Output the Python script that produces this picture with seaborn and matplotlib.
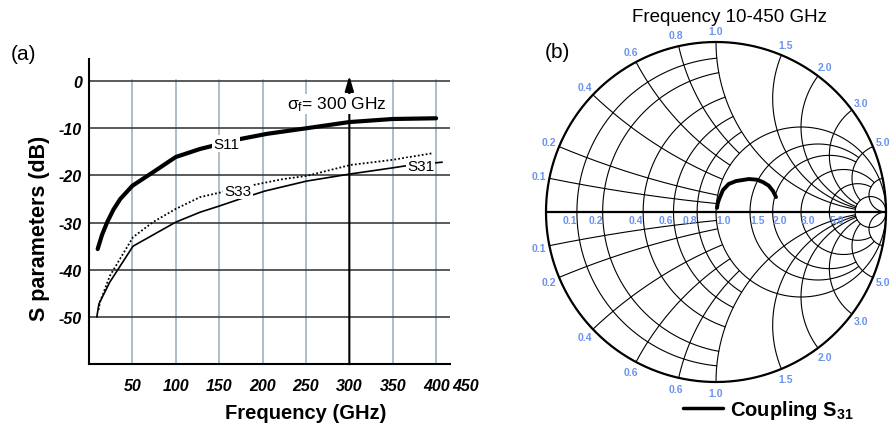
import numpy as np
import matplotlib
matplotlib.use("Agg")
import matplotlib.pyplot as plt
from matplotlib.lines import Line2D
import seaborn as sns

# ---------------- data ----------------
s11_freq = [10, 15, 21, 28, 36, 50, 74, 100, 128, 174, 205, 251, 300, 350, 400]
s11_db = [-35.6, -32.6, -29.9, -27.3, -25.0, -22.2, -19.3, -16.1, -14.4, -12.3, -11.2, -10.0, -8.7, -8.05, -7.9]

s33_freq = [11, 12.7, 24, 50.7, 73.7, 100, 128, 185, 223, 251, 301, 350, 396]
s33_db = [-48.5, -46.8, -41.3, -33.1, -29.9, -27.1, -24.6, -22.2, -20.8, -20.1, -17.8, -16.7, -15.3]

s31_freq = [9, 11.5, 24, 50.7, 100, 128, 150, 174, 203, 251, 301, 350, 364, 380, 407]
s31_db = [-50, -47.2, -42.6, -35.0, -29.9, -27.8, -26.5, -25.0, -23.3, -21.2, -19.7, -18.4, -18.0, -17.7, -17.2]

x_ticks = [50, 100, 150, 200, 250, 300, 350, 400]
x_tick_labels = ["50", "100", "150", "200", "250", "300", "350", "400"]
extra_x_label = "450"
y_ticks = [0, -10, -20, -30, -40, -50]
y_tick_labels = ["0", "-10", "-20", "-30", "-40", "-50"]
marker_freq = 300

# coupling S31 trajectory on the Smith chart (reflection coefficient)
coupling_re = [0.006, 0.010, 0.020, 0.041, 0.075, 0.118, 0.194, 0.240, 0.276, 0.310, 0.335, 0.353]
coupling_im = [0.024, 0.050, 0.080, 0.129, 0.165, 0.182, 0.194, 0.190, 0.176, 0.155, 0.124, 0.088]

# Smith chart grid values and labels
r_values = [0.1, 0.2, 0.4, 0.6, 0.8, 1.0, 1.5, 2.0, 3.0, 5.0]
x_values = [0.1, 0.2, 0.4, 0.6, 0.8, 1.0, 1.5, 2.0, 3.0, 5.0]
upper_rim_labels = ["0.1", "0.2", "0.4", "0.6", "0.8", "1.0", "1.5", "2.0", "3.0", "5.0"]
lower_rim_labels = ["0.1", "0.2", "0.4", "0.6", "0.6", "1.0", "1.5", "2.0", "3.0", "5.0"]
axis_labels = ["0.1", "0.2", "0.4", "0.6", "0.8", "1.0", "1.5", "2.0", "3.0", "5.0"]

# ---------------- style ----------------
sns.set_theme(style="white")
plt.rcParams["font.family"] = ["Liberation Sans", "DejaVu Sans"]
plt.rcParams["mathtext.fontset"] = "custom"
plt.rcParams["mathtext.rm"] = "Liberation Sans"
plt.rcParams["mathtext.bf"] = "Liberation Sans:bold"
plt.rcParams["mathtext.it"] = "Liberation Sans:italic"
for k in ["text.color", "axes.labelcolor", "xtick.color", "ytick.color"]:
    plt.rcParams[k] = "black"

W, H = 890, 427
fig = plt.figure(figsize=(W / 100, H / 100), dpi=100)

# ---------------- panel (a) ----------------
ax = fig.add_axes([89 / W, (H - 365) / H, (450 - 89) / W, (365 - 60) / H])
ax.set_xlim(0, 416)
ax.set_ylim(-59.96, 4.66)

for xv in x_ticks:
    if xv == marker_freq:
        continue
    ax.plot([xv, xv], [-60, 0.3], color="#a6b9c4", lw=1.3, zorder=1)
for yv in y_ticks:
    ax.axhline(yv, color="#3d3d3d", lw=1.2, zorder=1.5)

sns.lineplot(x=s31_freq, y=s31_db, ax=ax, color="black", lw=1.2, zorder=3)
sns.lineplot(x=s33_freq, y=s33_db, ax=ax, color="black", lw=1.3, zorder=3,
             linestyle=(0, (1, 1.2)))
sns.lineplot(x=s11_freq, y=s11_db, ax=ax, color="black", lw=3.0, zorder=3)

ax.annotate("", xy=(marker_freq, 1.1), xytext=(marker_freq, -60),
            arrowprops=dict(arrowstyle="-|>,head_length=0.75,head_width=0.22",
                            color="black", lw=1.5, mutation_scale=12,
                            shrinkA=0, shrinkB=0), zorder=2)

lab_box = dict(facecolor="white", edgecolor="none", pad=1.0)
ax.text(158, -13.3, "S11", fontsize=11, ha="center", va="center", bbox=lab_box, zorder=4)
ax.text(171.5, -23.3, "S33", fontsize=11, ha="center", va="center", bbox=lab_box, zorder=4)
ax.text(382, -18.0, "S31", fontsize=11, ha="center", va="center", bbox=lab_box, zorder=4)
ax.text(286, -4.9, "σ$_\\mathrm{f}$= 300 GHz", fontsize=12.5, ha="center", va="center",
        bbox=dict(facecolor="white", edgecolor="none", pad=0.5), zorder=4)

ax.set_xticks(x_ticks)
ax.set_xticklabels(x_tick_labels, fontsize=11.5, fontweight="bold", fontstyle="italic")
ax.set_yticks(y_ticks)
ax.set_yticklabels(y_tick_labels, fontsize=11.5, fontweight="bold", fontstyle="italic")
ax.tick_params(axis="x", length=0, pad=10)
ax.tick_params(axis="y", length=0, pad=5)
ax.annotate(extra_x_label, xy=(434, -59.96), xytext=(0, -10), textcoords="offset points",
            ha="center", va="top", fontsize=11.5, fontweight="bold", fontstyle="italic",
            annotation_clip=False)

for s in ["top", "right"]:
    ax.spines[s].set_visible(False)
for s in ["left", "bottom"]:
    ax.spines[s].set_color("black")
    ax.spines[s].set_linewidth(1.5)

ax.set_xlabel("Frequency (GHz)", fontsize=14.5, fontweight="bold")
ax.xaxis.label.set_va("center")
ax.xaxis.set_label_coords((306 - 89) / 361, (365 - 414) / 305)
ax.set_ylabel("S parameters (dB)", fontsize=15.5, fontweight="bold")
ax.yaxis.label.set_va("center")
ax.yaxis.set_label_coords((40 - 89) / 361, (365 - 228) / 305)

fig.text(24 / W, 1 - 54 / H, "(a)", fontsize=15, ha="center", va="center")
fig.text(557 / W, 1 - 52 / H, "(b)", fontsize=15, ha="center", va="center")

# ---------------- panel (b): Smith chart ----------------
R = 170.0
cx, cy = 716.0, 213.0
lim = 1.06
ax2 = fig.add_axes([(cx - R * lim) / W, (H - cy - R * lim) / H, 2 * R * lim / W, 2 * R * lim / H])
ax2.set_xlim(-lim, lim)
ax2.set_ylim(-lim, lim)
ax2.axis("off")


def gam(z):
    return (z - 1) / (z + 1)


grid_kw = dict(color="black", lw=0.8, zorder=1)
# resistance circles (truncated)
r_trunc = {0.1: 1, 0.2: 1, 0.4: 1, 0.6: 1, 0.8: 1, 1.0: 1e6, 1.5: 5, 2.0: 5, 3.0: 10, 5.0: 10, 10.0: 1e6}
for r, xm in r_trunc.items():
    th = np.linspace(-np.arctan(xm), np.arctan(xm), 600)
    g = gam(r + 1j * np.tan(th))
    ax2.plot(g.real, g.imag, **grid_kw)
# reactance arcs (truncated)
x_trunc = {0.1: 1, 0.2: 1, 0.4: 1, 0.6: 1, 0.8: 1, 1.0: 10, 1.5: 10, 2.0: 10, 3.0: 10, 5.0: 10, 10.0: 1e6}
for xv, rm in x_trunc.items():
    t = np.tan(np.linspace(0, np.arctan(rm), 600))
    for sgn in (1, -1):
        g = gam(t + 1j * sgn * xv)
        ax2.plot(g.real, g.imag, **grid_kw)
# outer circle and real axis
phi = np.linspace(0, 2 * np.pi, 800)
ax2.plot(np.cos(phi), np.sin(phi), color="black", lw=1.6, zorder=2)
ax2.plot([-1, 1], [0, 0], color="black", lw=1.6, zorder=2)

lab_col = "#6a93ee"
lab_kw = dict(color=lab_col, fontsize=7.5, fontweight="bold")
for xv, lu, ll in zip(x_values, upper_rim_labels, lower_rim_labels):
    g = gam(1j * xv)
    ax2.text(g.real * 1.065, g.imag * 1.065, lu, ha="center", va="center", **lab_kw)
    ax2.text(g.real * 1.065, -g.imag * 1.065, ll, ha="center", va="center", **lab_kw)
for r, lab in zip(r_values, axis_labels):
    gx = (r - 1) / (r + 1)
    ax2.text(gx, -0.02, lab, ha="right" if r < 1 else "left", va="top", **lab_kw)

sns.lineplot(x=coupling_re, y=coupling_im, ax=ax2, sort=False, estimator=None,
             color="black", lw=2.8, zorder=5)

fig.text(729 / W, 1 - 18 / H, "Frequency 10-450 GHz", fontsize=13.5, ha="center", va="center")

leg_handle = Line2D([], [], color="black", lw=2.5)
fig.legend([leg_handle], ["Coupling S$_\\mathbf{31}$"], loc="center left",
           bbox_to_anchor=(683 / W, 1 - 411 / H), frameon=False,
           prop=dict(weight="bold", size=14.5), handlelength=2.0, handletextpad=0.35,
           borderpad=0, borderaxespad=0)

fig.savefig("out.png", dpi=100)
